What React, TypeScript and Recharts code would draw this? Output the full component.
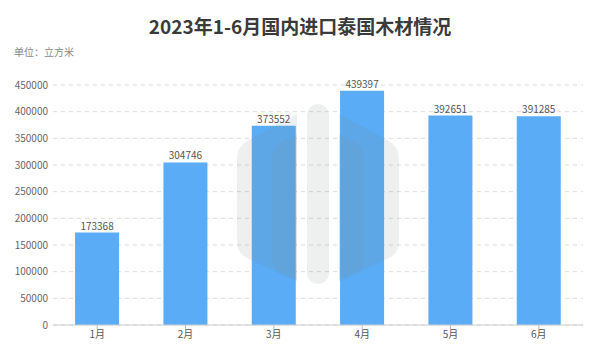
import { BarChart, Bar, XAxis, YAxis, CartesianGrid, LabelList } from "recharts";

const months = ["1月", "2月", "3月", "4月", "5月", "6月"];
const volumes = [173368, 304746, 373552, 439397, 392651, 391285];
const yTicks = [0, 50000, 100000, 150000, 200000, 250000, 300000, 350000, 400000, 450000];

const data = months.map((m, i) => ({ month: m, value: volumes[i] }));

const font = "'Noto Sans CJK SC', 'Noto Sans', sans-serif";

// faint logo watermark over the middle of the plot
function Watermark() {
  const leftOuter = "M 297 114 L 247 141 Q 237 147 237 159 L 237 241 Q 237 253 247 258 L 297 282 Z";
  const leftInner = "M 297 134 L 280 143 Q 272 148 272 158 L 272 262 Q 272 268 280 272 L 297 280 Z";
  const mirror = "translate(636,0) scale(-1,1)";
  return (
    <svg width={600} height={364} style={{ position: "absolute", left: 0, top: 0, pointerEvents: "none" }}>
      <g fill="#7f8c8c" fillOpacity={0.13}>
        <rect x={307} y={104} width={22} height={180} rx={11} />
        <path d={leftOuter} />
        <path d={leftInner} />
        <g transform={mirror}>
          <path d={leftOuter} />
          <path d={leftInner} />
        </g>
      </g>
    </svg>
  );
}

export default function App() {
  return (
    <div style={{ position: "absolute", left: 0, top: 0, width: 600, height: 364, background: "#fff", fontFamily: font }}>
      <div
        style={{
          position: "absolute",
          top: 12,
          left: 0,
          width: 600,
          textAlign: "center",
          fontSize: 19,
          fontWeight: 700,
          color: "#3a3a3a",
          lineHeight: "28px",
        }}
      >
        2023年1-6月国内进口泰国木材情况
      </div>
      <div style={{ position: "absolute", top: 44, left: 14, fontSize: 10, color: "#888", lineHeight: "16px" }}>
        单位：立方米
      </div>
      <BarChart
        width={600}
        height={364}
        data={data}
        margin={{ top: 85, right: 17, bottom: 9, left: 0 }}
        barCategoryGap="25%"
      >
        <CartesianGrid vertical={false} stroke="#dcdcdc" strokeDasharray="4 4" />
        <XAxis
          dataKey="month"
          tick={{ fontSize: 10, fill: "#555", fontFamily: font }}
          tickLine={{ stroke: "#bbb" }}
          tickSize={4}
          axisLine={{ stroke: "#ccc" }}
          height={30}
        />
        <YAxis
          ticks={yTicks}
          domain={[0, 450000]}
          tick={{ fontSize: 10, fill: "#666", fontFamily: font }}
          tickLine={false}
          tickSize={3}
          axisLine={false}
          width={53}
          interval={0}
        />
        <Bar dataKey="value" fill="#59acf5" isAnimationActive={false}>
          <LabelList dataKey="value" position="top" offset={3} style={{ fontSize: 10, fill: "#555", fontFamily: font }} />
        </Bar>
      </BarChart>
      <Watermark />
    </div>
  );
}
